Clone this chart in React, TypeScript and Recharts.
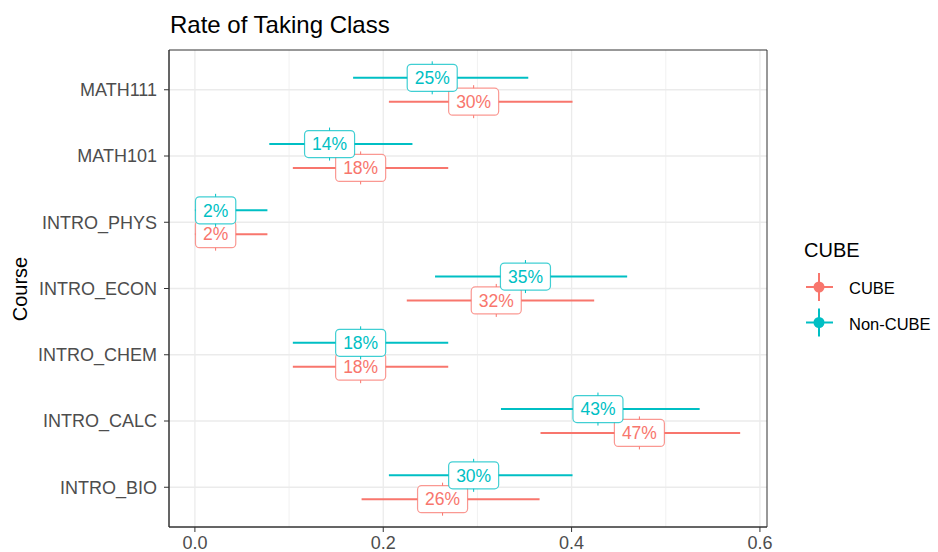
import React from 'react';
import { ScatterChart, Scatter, XAxis, YAxis, ErrorBar, CartesianGrid, ReferenceArea } from 'recharts';

const courses = ['INTRO_BIO', 'INTRO_CALC', 'INTRO_CHEM', 'INTRO_ECON', 'INTRO_PHYS', 'MATH101', 'MATH111'];
const cubeRate = [0.263, 0.472, 0.176, 0.32, 0.022, 0.176, 0.296];
const cubeLow = [0.177, 0.367, 0.104, 0.225, 0.0, 0.104, 0.206];
const cubeHigh = [0.366, 0.579, 0.269, 0.424, 0.077, 0.269, 0.401];
const nonRate = [0.296, 0.428, 0.176, 0.351, 0.022, 0.143, 0.252];
const nonLow = [0.206, 0.325, 0.104, 0.255, 0.0, 0.079, 0.168];
const nonHigh = [0.401, 0.536, 0.269, 0.459, 0.077, 0.231, 0.354];
const seriesNames = ['CUBE', 'Non-CUBE'];
const seriesColors = ['#F8766D', '#00BFC4'];
const xTicks = [0, 0.2, 0.4, 0.6];
const xMinor = [0.1, 0.3, 0.5];
const yPositions = courses.map((_, i) => i + 1);
const dodge = 0.18;

const FONT = '"Liberation Sans", Arial, Helvetica, sans-serif';

const build = (rate: number[], low: number[], high: number[], off: number) =>
  courses.map((c, i) => ({
    course: c,
    x: rate[i],
    y: i + 1 + off,
    err: [rate[i] - low[i], high[i] - rate[i]],
    label: Math.round(rate[i] * 100) + '%',
  }));

const cubeData = build(cubeRate, cubeLow, cubeHigh, -dodge);
const nonData = build(nonRate, nonLow, nonHigh, dodge);

const makeShape = (color: string) => (props: any) => {
  const { cx, cy, payload } = props;
  if (cx == null || cy == null) return <g />;
  const text: string = payload.label;
  const digits = text.length - 1;
  const fs = 17.5;
  const w = (digits * 0.556 + 0.889) * fs + 15;
  const h = 27;
  return (
    <g>
      <line x1={cx} x2={cx} y1={cy - h / 2 - 3} y2={cy + h / 2 + 3} stroke={color} strokeWidth={1} />
      <rect
        x={cx - w / 2}
        y={cy - h / 2}
        width={w}
        height={h}
        rx={4}
        ry={4}
        fill="#ffffff"
        stroke={color}
        strokeOpacity={0.75}
        strokeWidth={1.2}
      />
      <text x={cx} y={cy} dy="0.36em" textAnchor="middle" fill={color} fontSize={fs} fontFamily={FONT}>
        {text}
      </text>
    </g>
  );
};

const xDomain: [number, number] = [-0.0275, 0.6075];
const yDomain: [number, number] = [0.4, 7.6];

export default function App() {
  return (
    <div style={{ position: 'absolute', left: 0, top: 0, width: 938, height: 552, background: '#fff', fontFamily: FONT }}>
      <ScatterChart width={938} height={552} margin={{ top: 50, right: 171, bottom: 5, left: 0 }}>
        <CartesianGrid
          horizontal={false}
          verticalValues={xMinor}
          stroke="#EBEBEB"
          strokeWidth={0.7}
          xAxisId={0}
          yAxisId={0}
        />
        <CartesianGrid
          verticalValues={xTicks}
          horizontalValues={yPositions}
          stroke="#EBEBEB"
          strokeWidth={1.3}
          xAxisId={0}
          yAxisId={0}
        />
        <XAxis
          xAxisId={0}
          type="number"
          dataKey="x"
          domain={xDomain}
          ticks={xTicks}
          allowDataOverflow
          tickFormatter={(v: number) => v.toFixed(1)}
          tick={{ fontSize: 18, fill: '#4D4D4D', fontFamily: FONT }}
          tickSize={5}
          tickMargin={4}
          height={20}
          axisLine={{ stroke: '#333333', strokeWidth: 1 }}
          tickLine={{ stroke: '#333333', strokeWidth: 1 }}
        />
        <YAxis
          yAxisId={0}
          type="number"
          dataKey="y"
          domain={yDomain}
          ticks={yPositions}
          allowDataOverflow
          tickFormatter={(v: number) => courses[Math.round(v) - 1] ?? ''}
          tick={{ fontSize: 18, fill: '#4D4D4D', fontFamily: FONT }}
          tickSize={5}
          tickMargin={7}
          width={169}
          axisLine={{ stroke: '#333333', strokeWidth: 1 }}
          tickLine={{ stroke: '#333333', strokeWidth: 1 }}
        />
        <ReferenceArea
          x1={xDomain[0]}
          x2={xDomain[1]}
          y1={yDomain[0]}
          y2={yDomain[1]}
          xAxisId={0}
          yAxisId={0}
          fill="none"
          fillOpacity={0}
          stroke="#333333"
          strokeWidth={1}
          ifOverflow="visible"
        />
        <Scatter
          name={seriesNames[0]}
          data={cubeData}
          xAxisId={0}
          yAxisId={0}
          isAnimationActive={false}
          shape={makeShape(seriesColors[0])}
        >
          <ErrorBar dataKey="err" direction="x" width={0} stroke={seriesColors[0]} strokeWidth={2} isAnimationActive={false} />
        </Scatter>
        <Scatter
          name={seriesNames[1]}
          data={nonData}
          xAxisId={0}
          yAxisId={0}
          isAnimationActive={false}
          shape={makeShape(seriesColors[1])}
        >
          <ErrorBar dataKey="err" direction="x" width={0} stroke={seriesColors[1]} strokeWidth={2} isAnimationActive={false} />
        </Scatter>
      </ScatterChart>
      <svg width={938} height={552} style={{ position: 'absolute', left: 0, top: 0, pointerEvents: 'none' }}>
        <text x={170} y={33} fontSize={24} fill="#000" fontFamily={FONT}>
          Rate of Taking Class
        </text>
        <text
          x={0}
          y={0}
          transform="translate(27,289) rotate(-90)"
          textAnchor="middle"
          fontSize={20}
          fill="#000"
          fontFamily={FONT}
        >
          Course
        </text>
        <text x={804} y={257} fontSize={20} fill="#000" fontFamily={FONT}>
          CUBE
        </text>
        {seriesNames.map((n, i) => {
          const cy = 287 + i * 35.5;
          const c = seriesColors[i];
          return (
            <g key={n}>
              <line x1={806} x2={833} y1={cy} y2={cy} stroke={c} strokeWidth={2} />
              <line x1={819} x2={819} y1={cy - 14} y2={cy + 14} stroke={c} strokeWidth={2} />
              <circle cx={819} cy={cy} r={5.5} fill={c} />
              <text x={849} y={cy + 7} fontSize={16.5} fill="#000" fontFamily={FONT}>
                {n}
              </text>
            </g>
          );
        })}
      </svg>
    </div>
  );
}
